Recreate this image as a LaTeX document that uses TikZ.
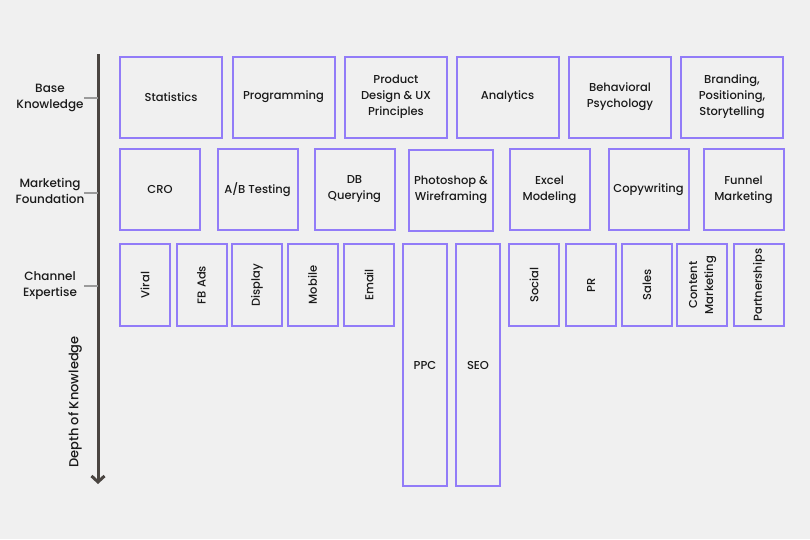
\documentclass[tikz,border=0pt]{standalone}
\usepackage{fontspec}
\setmainfont{Poppins}[UprightFont=* Medium]
\usetikzlibrary{arrows.meta}
\definecolor{bg}{HTML}{F0F0F0}
\definecolor{boxc}{RGB}{146,124,248}
\definecolor{axisc}{HTML}{4A4541}
\definecolor{tickc}{HTML}{9A9A9A}
\definecolor{txt}{HTML}{1A1A1A}
\tikzset{
  box/.style={draw=boxc, line width=2pt, inner sep=0pt, align=center, text=txt,
    font=\fontsize{11.5}{16}\selectfont},
  toprow/.style={box, minimum width=102pt, minimum height=81pt},
  midrow/.style={box, minimum width=80pt, minimum height=81pt},
  chan/.style={box, minimum width=50pt, minimum height=82pt},
  tall/.style={box, minimum width=44pt, minimum height=242pt},
  lvl/.style={align=center, text=txt, font=\fontsize{12}{16}\selectfont, inner sep=1pt},
  tickline/.style={draw=tickc, line width=1.2pt},
}
\begin{document}
\begin{tikzpicture}[x=1pt,y=-1pt]
\fill[bg] (0,0) rectangle (810,539);
\useasboundingbox (0,0) rectangle (810,539);
% axis
\coordinate (atop) at (98,54);
\coordinate (abot) at (98,484);
\draw[axisc, line width=3pt, -{Straight Barb[length=6pt,width=13pt,line width=3pt]}] (atop) -- (abot);
\node[lvl, rotate=90, font=\fontsize{13}{16}\selectfont] (depth) at (75,402) {Depth of Knowledge};
% level labels
\node[lvl] (lbase) at (50,97.5) {Base\\Knowledge};
\node[lvl] (lmkt) at (50,190.5) {Marketing\\Foundation};
\node[lvl] (lchan) at (50,286) {Channel\\Expertise};
\draw[tickline] (84,98) coordinate (t1) -- (t1 -| atop);
\draw[tickline] (84,193) coordinate (t2) -- (t2 -| atop);
\draw[tickline] (84,286) coordinate (t3) -- (t3 -| atop);
% top row
\node[toprow] (stat) at (171,97) {Statistics};
\node[toprow] (prog) at (283.5,97) {Programming};
\node[toprow] (prod) at (396,97) {Product\\Design \& UX\\Principles};
\node[toprow] (anal) at (507.5,97) {Analytics};
\node[toprow] (behav) at (620,97) {Behavioral\\Psychology};
\node[toprow] (brand) at (732,97) {Branding,\\Positioning,\\Storytelling};
% middle row
\node[midrow] (cro) at (160,189.5) {CRO};
\node[midrow] (ab) at (257.5,189.5) {A/B Testing};
\node[midrow] (db) at (354.5,189.5) {DB\\Querying};
\node[midrow, minimum width=84pt] (photo) at (451,190) {Photoshop \&\\Wireframing};
\node[midrow] (excel) at (549.5,189.5) {Excel\\Modeling};
\node[midrow] (copy) at (648.5,189.5) {Copywriting};
\node[midrow] (funnel) at (743.5,189.5) {Funnel\\Marketing};
% channel row
\node[chan] (viral) at (145,285) {\rotatebox{90}{Viral}};
\node[chan] (fb) at (201.5,285) {\rotatebox{90}{FB Ads}};
\node[chan] (disp) at (257,285) {\rotatebox{90}{Display}};
\node[chan] (mob) at (312.5,285) {\rotatebox{90}{Mobile}};
\node[chan] (email) at (369,285) {\rotatebox{90}{Email}};
\node[tall] (ppc) at (425,365) {PPC};
\node[tall] (seo) at (478,365) {SEO};
\node[chan] (social) at (534,285) {\rotatebox{90}{Social}};
\node[chan] (pr) at (591,285) {\rotatebox{90}{PR}};
\node[chan] (sales) at (647,285) {\rotatebox{90}{Sales}};
\node[chan] (content) at (702,285) {\rotatebox{90}{\begin{tabular}{@{}c@{}}Content\\Marketing\end{tabular}}};
\node[chan] (partner) at (759,285) {\rotatebox{90}{Partnerships}};
\end{tikzpicture}
\end{document}
